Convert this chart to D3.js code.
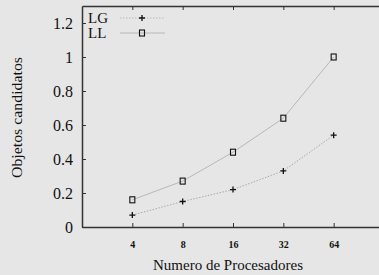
<!DOCTYPE html>
<html>
<head>
<meta charset="utf-8">
<script src="https://cdn.jsdelivr.net/npm/d3@7"></script>
<style>
  body { margin: 0; background: #e6e6e6; }
  text { font-family: "Liberation Serif", "Times New Roman", serif; }
</style>
</head>
<body>
<div id="chart"></div>
<script>
// chart data
var procs = ["4", "8", "16", "32", "64"];
var lgValues = [0.07, 0.15, 0.22, 0.33, 0.54];
var llValues = [0.16, 0.27, 0.44, 0.64, 1.0];
var yTicks = [0, 0.2, 0.4, 0.6, 0.8, 1, 1.2];

var svgWidth = 379;
var svgHeight = 275;

var margin = { top: 6, right: -5, bottom: 48, left: 82 };
var width = svgWidth - margin.left - margin.right;
var height = svgHeight - margin.top - margin.bottom;

var svg = d3.select("#chart")
  .append("svg")
  .attr("width", svgWidth)
  .attr("height", svgHeight);

svg.append("rect")
  .attr("width", svgWidth)
  .attr("height", svgHeight)
  .attr("fill", "#e6e6e6");

var chartGroup = svg.append("g")
  .attr("transform", `translate(${margin.left}, ${margin.top})`);

// scales: categories sit on positions 1..5 of a 0..6 range
var xScale = d3.scaleLinear()
  .domain([0, 6])
  .range([0, width]);

var yScale = d3.scaleLinear()
  .domain([0, 1.3])
  .range([height, 0]);

var xPos = (d, i) => xScale(i + 1);

// axes (ticks pointing inward)
var bottomAxis = d3.axisBottom(xScale)
  .tickValues(d3.range(1, procs.length + 1))
  .tickFormat(i => procs[i - 1])
  .tickSizeInner(-4)
  .tickSizeOuter(0)
  .tickPadding(14);

var topAxis = d3.axisTop(xScale)
  .tickValues(d3.range(1, procs.length + 1))
  .tickFormat("")
  .tickSizeInner(-4)
  .tickSizeOuter(0);

var leftAxis = d3.axisLeft(yScale)
  .tickValues(yTicks)
  .tickFormat(d3.format("~g"))
  .tickSizeInner(-4)
  .tickSizeOuter(0)
  .tickPadding(9);

var gx = chartGroup.append("g")
  .attr("transform", `translate(0, ${height})`)
  .call(bottomAxis);
gx.selectAll("text")
  .attr("font-size", 10)
  .attr("font-weight", "bold")
  .attr("fill", "#111");

var gt = chartGroup.append("g")
  .call(topAxis);

var gy = chartGroup.append("g")
  .call(leftAxis);
gy.selectAll("text")
  .attr("font-size", 16)
  .attr("fill", "#111");

[gx, gt, gy].forEach(g => {
  g.select(".domain").attr("stroke", "#333").attr("stroke-width", 1.5);
  g.selectAll(".tick line").attr("stroke", "#333");
});

// titles
chartGroup.append("text")
  .attr("text-anchor", "middle")
  .attr("x", xScale(3) - 5)
  .attr("y", height + 43)
  .attr("font-size", 15)
  .attr("fill", "#111")
  .text("Numero de Procesadores");

chartGroup.append("text")
  .attr("text-anchor", "middle")
  .attr("transform", `translate(${-margin.left + 22}, ${111.5})rotate(-90)`)
  .attr("font-size", 15)
  .attr("textLength", 121)
  .attr("lengthAdjust", "spacingAndGlyphs")
  .attr("fill", "#111")
  .text("Objetos candidatos");

// lines
var lineGen = d3.line()
  .x(xPos)
  .y(d => yScale(d));

chartGroup.append("path")
  .datum(lgValues)
  .attr("d", lineGen)
  .attr("fill", "none")
  .attr("stroke", "#aaa")
  .attr("stroke-width", 1)
  .attr("stroke-dasharray", "1.5,1.5");

chartGroup.append("path")
  .datum(llValues)
  .attr("d", lineGen)
  .attr("fill", "none")
  .attr("stroke", "#b8b8b8")
  .attr("stroke-width", 1);

// markers
function plusMark(g, x, y) {
  g.append("path")
    .attr("d", `M${x - 3},${y}H${x + 3}M${x},${y - 3}V${y + 3}`)
    .attr("stroke", "#111")
    .attr("stroke-width", 1.3);
}

function squareMark(g, x, y) {
  g.append("rect")
    .attr("x", x - 2.5)
    .attr("y", y - 3)
    .attr("width", 5)
    .attr("height", 6)
    .attr("fill", "none")
    .attr("stroke", "#111")
    .attr("stroke-width", 1.1);
}

lgValues.forEach((d, i) => plusMark(chartGroup, xPos(d, i), yScale(d)));
llValues.forEach((d, i) => squareMark(chartGroup, xPos(d, i), yScale(d)));

// legend
var legend = chartGroup.append("g");
var legendItems = [
  { name: "LG", dash: "1.5,1.5", mark: plusMark },
  { name: "LL", dash: null, mark: squareMark }
];

legendItems.forEach((item, i) => {
  var y = 12 + i * 15;
  legend.append("text")
    .attr("x", 6)
    .attr("y", y + 5)
    .attr("font-size", 15)
    .attr("fill", "#111")
    .text(item.name);
  legend.append("line")
    .attr("x1", 38)
    .attr("x2", 83)
    .attr("y1", y)
    .attr("y2", y)
    .attr("stroke", "#b8b8b8")
    .attr("stroke-dasharray", item.dash);
  item.mark(legend, 60, y);
});
</script>
</body>
</html>
